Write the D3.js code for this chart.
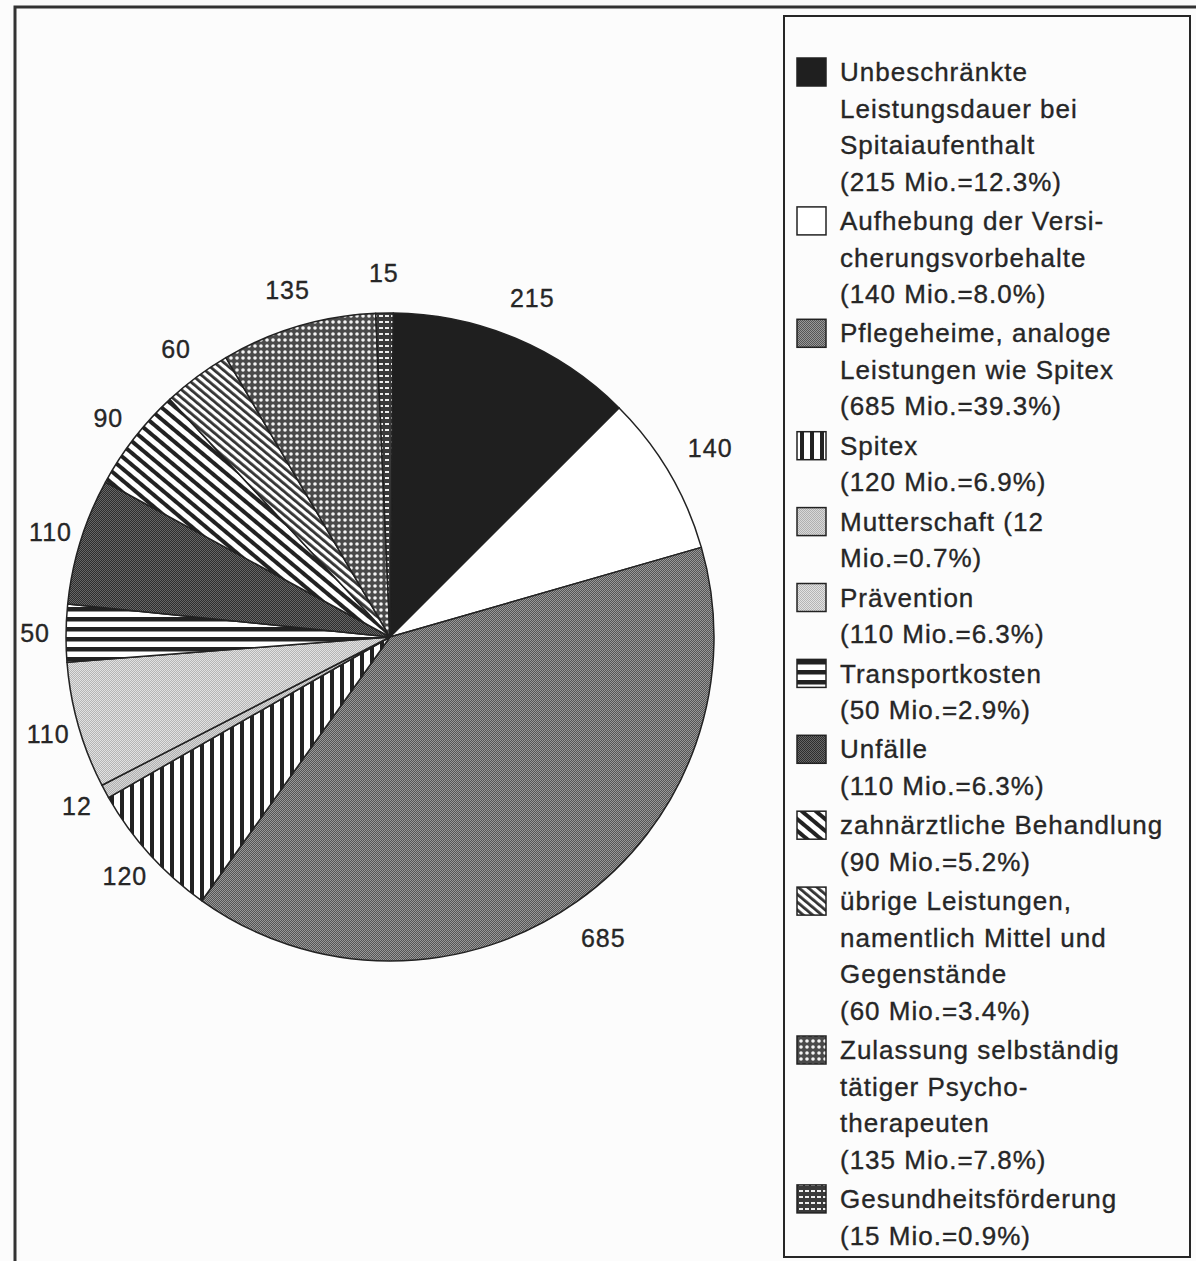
<!DOCTYPE html>
<html lang="de">
<head>
<meta charset="UTF-8">
<title>Mehrkosten nach Leistungen</title>
<script src="https://d3js.org/d3.v7.min.js"></script>
<style>
    body { margin: 0; background: #fcfcfc; }
    .lbl { font-family: "Liberation Sans", Arial, sans-serif; font-size: 25px; letter-spacing: 1px;
           fill: #262626; stroke: #262626; stroke-width: 0.35px; }
    .leg { font-family: "Liberation Sans", Arial, sans-serif; font-size: 26px; letter-spacing: 1px;
           fill: #262626; stroke: #262626; stroke-width: 0.35px; }
</style>
</head>
<body>
<svg width="1196" height="1261"></svg>
<script>
// Werte im Uhrzeigersinn ab 12 Uhr (Mio. Fr.)
const categories = ["Unbeschränkte Leistungsdauer bei Spitalaufenthalt", "Aufhebung der Versicherungsvorbehalte",
    "Pflegeheime, analoge Leistungen wie Spitex", "Spitex", "Mutterschaft", "Prävention", "Transportkosten",
    "Unfälle", "zahnärztliche Behandlung", "übrige Leistungen", "Zulassung Psychotherapeuten", "Gesundheitsförderung"];
const values = [215, 140, 685, 120, 12, 110, 50, 110, 90, 60, 135, 15];
const legendLines = [
    ["Unbeschränkte", "Leistungsdauer bei", "Spitaiaufenthalt", "(215 Mio.=12.3%)"],
    ["Aufhebung der Versi-", "cherungsvorbehalte", "(140 Mio.=8.0%)"],
    ["Pflegeheime, analoge", "Leistungen wie Spitex", "(685 Mio.=39.3%)"],
    ["Spitex", "(120 Mio.=6.9%)"],
    ["Mutterschaft (12", "Mio.=0.7%)"],
    ["Prävention", "(110 Mio.=6.3%)"],
    ["Transportkosten", "(50 Mio.=2.9%)"],
    ["Unfälle", "(110 Mio.=6.3%)"],
    ["zahnärztliche Behandlung", "(90 Mio.=5.2%)"],
    ["übrige Leistungen,", "namentlich Mittel und", "Gegenstände", "(60 Mio.=3.4%)"],
    ["Zulassung selbständig", "tätiger Psycho-", "therapeuten", "(135 Mio.=7.8%)"],
    ["Gesundheitsförderung", "(15 Mio.=0.9%)"]
];

const fills = ["#1f1f1f", "#ffffff", "url(#pGrau)", "url(#pVert)", "url(#pHell2)", "url(#pHell)",
    "url(#pHoriz)", "url(#pDunkel)", "url(#pDiag)", "url(#pDiag2)", "url(#pPunkte)", "url(#pStrich)"];

const svg = d3.select("svg");
const defs = svg.append("defs");

// Raster: feines Schachbrett
function checker(id, a, b) {
    const p = defs.append("pattern").attr("id", id).attr("patternUnits", "userSpaceOnUse")
        .attr("width", 2).attr("height", 2);
    p.append("rect").attr("width", 2).attr("height", 2).attr("fill", a);
    p.append("rect").attr("width", 1).attr("height", 1).attr("fill", b);
    p.append("rect").attr("x", 1).attr("y", 1).attr("width", 1).attr("height", 1).attr("fill", b);
}
checker("pGrau", "#989898", "#555");
checker("pDunkel", "#666", "#2e2e2e");
checker("pHell", "#e2e2e2", "#b5b5b5");
checker("pHell2", "#d8d8d8", "#b0b0b0");

// Streifen
function stripes(id, period, w, rot, ink) {
    const p = defs.append("pattern").attr("id", id).attr("patternUnits", "userSpaceOnUse")
        .attr("width", period).attr("height", period)
        .attr("patternTransform", "rotate(" + rot + ")");
    p.append("rect").attr("width", period).attr("height", period).attr("fill", "#fff");
    p.append("rect").attr("width", w).attr("height", period).attr("fill", ink);
}
stripes("pVert", 10, 4, 0, "#222");
stripes("pHoriz", 10, 4.5, 90, "#222");
stripes("pDiag", 9, 4, -50, "#222");
stripes("pDiag2", 6, 2.8, -50, "#333");

// Punkte
const pp = defs.append("pattern").attr("id", "pPunkte").attr("patternUnits", "userSpaceOnUse")
    .attr("width", 6).attr("height", 6);
pp.append("rect").attr("width", 6).attr("height", 6).attr("fill", "#4a4a4a");
pp.append("circle").attr("cx", 3).attr("cy", 3).attr("r", 1.8).attr("fill", "#f4f4f4");

const ps = defs.append("pattern").attr("id", "pStrich").attr("patternUnits", "userSpaceOnUse")
    .attr("width", 6).attr("height", 6);
ps.append("rect").attr("width", 6).attr("height", 6).attr("fill", "#3a3a3a");
ps.append("rect").attr("x", 1).attr("y", 2).attr("width", 4).attr("height", 2).attr("fill", "#eee");

// Rahmen aussen
svg.append("rect").attr("x", 15).attr("y", 7).attr("width", 1200).attr("height", 1300)
    .attr("fill", "none").attr("stroke", "#333").attr("stroke-width", 3);

// Kreis
const cx = 390, cy = 637, r = 324;
const pie = d3.pie().sort(null).startAngle(0.01).endAngle(0.01 + 2 * Math.PI);
const arcs = pie(values);
const arc = d3.arc().innerRadius(0).outerRadius(r);

// Beschriftung: links etwas näher am Kreis als rechts
function labelPos(d) {
    const a = (d.startAngle + d.endAngle) / 2;
    const rr = 364 + 9 * Math.sin(a);
    return [rr * Math.sin(a), -rr * Math.cos(a)];
}

const g = svg.append("g").attr("transform", "translate(" + cx + "," + cy + ")");
g.selectAll("path")
    .data(arcs)
    .enter()
    .append("path")
    .attr("d", arc)
    .attr("fill", function (d, i) { return fills[i]; })
    .attr("stroke", "#222")
    .attr("stroke-width", 1.5)
    .attr("stroke-linejoin", "round");

g.selectAll("text")
    .data(arcs)
    .enter()
    .append("text")
    .attr("class", "lbl")
    .attr("text-anchor", "middle")
    .attr("dy", "0.35em")
    .attr("x", function (d) { return labelPos(d)[0]; })
    .attr("y", function (d) { return labelPos(d)[1]; })
    .text(function (d) { return d.value; });

// Legende
svg.append("rect").attr("x", 784).attr("y", 16).attr("width", 406).attr("height", 1241)
    .attr("fill", "#fcfcfc").attr("stroke", "#262626").attr("stroke-width", 2);

const lineH = 36.5, gap = 2.9;
let y = 72;
legendLines.forEach(function (lines, i) {
    const leg = svg.append("g").attr("class", "legend-item").attr("data-name", categories[i]);
    leg.append("rect")
        .attr("x", 797).attr("y", y - 14).attr("width", 29).attr("height", 28)
        .attr("fill", fills[i]).attr("stroke", "#222").attr("stroke-width", 1.5);
    lines.forEach(function (t, j) {
        leg.append("text")
            .attr("class", "leg")
            .attr("x", 840)
            .attr("y", y + j * lineH)
            .attr("dy", "0.35em")
            .text(t);
    });
    y += lines.length * lineH + gap;
});
</script>
</body>
</html>
